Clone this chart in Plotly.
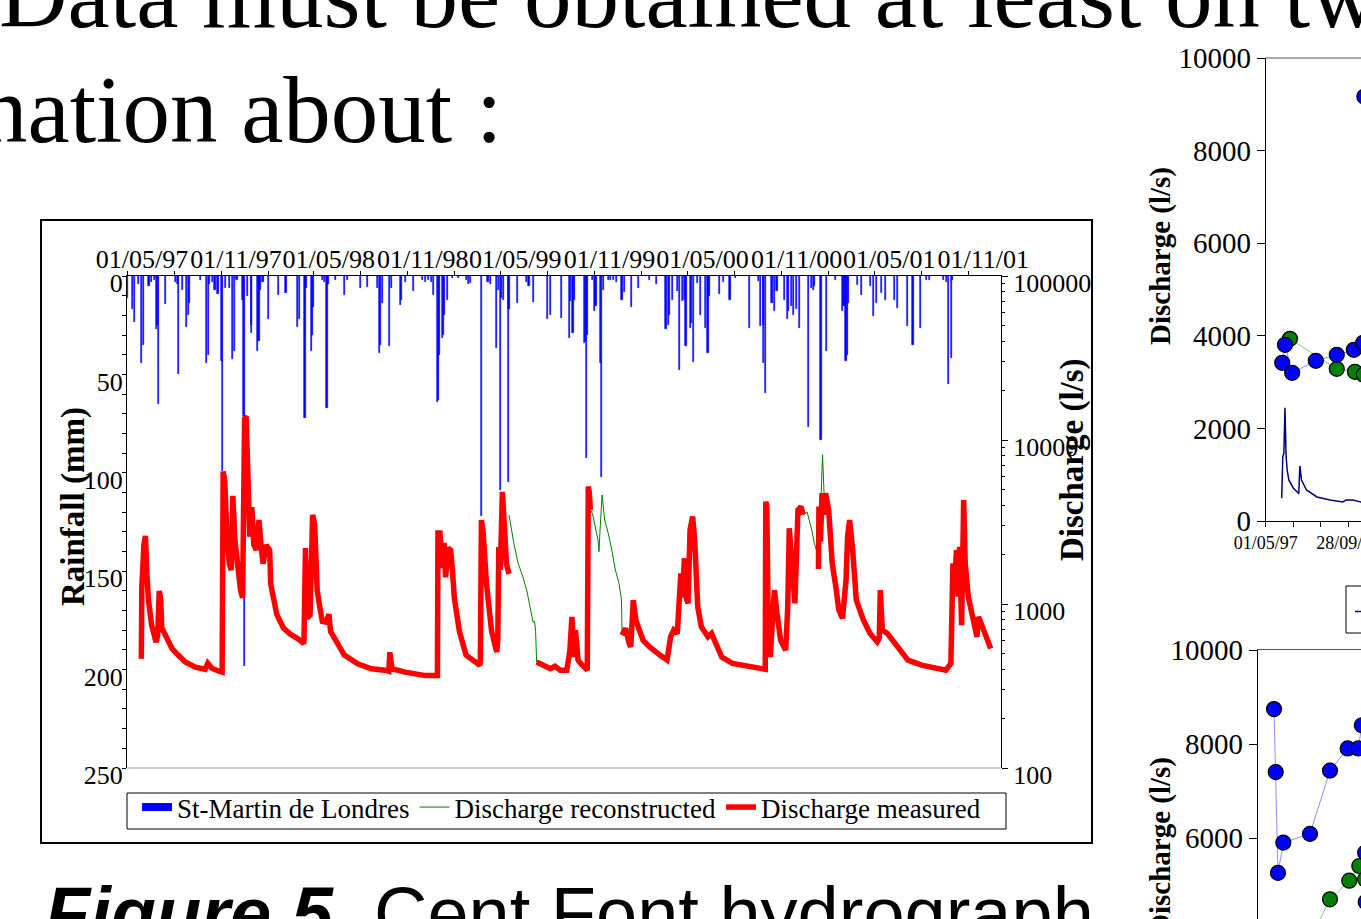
import pandas as pd
import plotly.graph_objects as go

START = pd.Timestamp("1997-05-01")
END = pd.Timestamp("2002-01-04")
DAY_MS = 86400000

# ---------------- main chart data ----------------
# daily rainfall at St-Martin de Londres (day offset from 01/05/97, mm)
rain_day = [0, 10, 14, 23, 29, 32, 43, 48, 53, 57, 60, 61, 76, 94, 98, 100, 108, 117, 120, 123,
            144, 156, 159, 162, 167, 172, 178, 184, 186, 192, 201, 207, 210, 215, 226, 227, 229, 235, 243, 244,
            255, 258, 260, 266, 277, 297, 311, 334, 337, 348, 350, 360, 363, 364, 383, 387, 391, 393, 407, 425,
            431, 457, 470, 489, 493, 496, 499, 513, 518, 534, 536, 545, 561, 577, 583, 589, 595, 599, 607, 609,
            611, 617, 619, 621, 626, 637, 649, 663, 667, 671, 693, 706, 711, 723, 726, 730, 733, 737, 746, 747,
            764, 782, 786, 795, 822, 828, 850, 865, 867, 872, 875, 894, 897, 899, 901, 911, 914, 917, 926, 927,
            932, 941, 945, 951, 958, 968, 972, 986, 1000, 1022, 1036, 1054, 1058, 1061, 1066, 1076, 1081, 1086, 1090, 1093,
            1102, 1104, 1107, 1115, 1122, 1131, 1136, 1138, 1159, 1167, 1179, 1190, 1217, 1234, 1239, 1244, 1245, 1248, 1260, 1263,
            1266, 1271, 1285, 1291, 1294, 1299, 1303, 1309, 1315, 1333, 1338, 1342, 1345, 1357, 1367, 1386, 1399, 1402, 1406, 1408,
            1411, 1428, 1436, 1453, 1460, 1465, 1475, 1483, 1500, 1507, 1527, 1537, 1551, 1563, 1569, 1596, 1602, 1607, 1612, 1615]
rain_mm = [11, 17, 23.5, 4, 44, 35, 5, 3, 2, 27, 25, 65, 14, 3, 4, 50, 7, 26, 20, 13.5,
           2, 44, 40, 4, 3, 7, 9, 43, 99, 6, 6, 42, 38, 2, 12, 71, 198, 10, 29, 25,
           38, 33, 7, 3, 22, 9.5, 8.5, 26, 22, 72, 6, 38, 30, 16, 2, 3, 67, 4, 2, 9.4,
           2, 6, 5.5, 6, 39, 35, 13.7, 35.7, 6, 14.5, 12, 3, 7.7, 2, 3, 2, 3, 9.4, 64, 63,
           40, 31.5, 30, 20, 12, 1, 1, 2, 4, 3.5, 122, 3, 4, 36.6, 7, 108.7, 11, 12, 104.5, 17,
           13.7, 3, 5, 13, 22, 19.6, 21.3, 31.5, 12.8, 28.9, 12, 34, 33, 92.6, 30, 1.8, 18, 15, 44, 102,
           7, 2, 2, 2, 3, 12, 8, 16, 6, 2, 4.3, 27, 25, 20, 12, 7.7, 47.6, 12.8, 12, 35.7,
           26.4, 24, 43.9, 3.5, 19.6, 26.4, 39.1, 10.3, 8.9, 3, 12, 1, 26.4, 2.3, 25.6, 25, 44, 59.5, 13.7, 13.7,
           17.9, 7.7, 12, 22, 18, 15, 20, 17, 26.4, 76.5, 6, 7, 5, 83.2, 38.3, 1.8, 18, 15, 43, 40,
           13.7, 4.8, 9.9, 5.2, 20.5, 13.7, 8.6, 12, 12, 16.2, 25.6, 34.9, 26.4, 2, 2, 2, 3, 54.7, 41.7, 1.8]

# measured discharge (day offset, l/s); None separates gaps in the record
meas_day = [28, 29, 33, 36, 39, 42, 48, 57, 60, 63, 66, 68, 76, 88, 100, 114, 134, 153, 158, 166,
            180, 186, 188, 191, 195, 200, 204, 207, 211, 216, 222, 226, 230, 233, 236, 240, 244, 248, 253, 258,
            262, 266, 272, 279, 281, 287, 293, 306, 319, 333, 346, 349, 352, 358, 363, 367, 372, 378, 382, 389,
            395, 398, 412, 425, 451, 478, 508, 512, 514, 518, 544, 584, 607, 608, 612, 616, 620, 623, 628, 633,
            637, 640, 650, 663, 690, 691, 693, 696, 703, 713, 723, 725, 727, 730, 734, 737, 742, 747, None,
            801, 815, 828, 837, 847, 860, 866, 870, 874, 877, 882, 887, 900, 902, 904, 906, None,
            968, 975, 982, 985, 990, 995, 1009, 1022, 1042, 1056, 1063, 1069, 1076, 1083, 1086, 1090, 1093, 1097, 1101, 1106,
            1110, 1113, 1116, 1123, 1136, 1143, 1163, 1184, 1217, 1244, 1248, 1249, 1251, 1254, 1258, 1262, 1266, 1271, 1278, 1288,
            1292, 1295, 1299, 1306, 1312, 1318, 1322, None,
            1352, 1353, 1356, 1359, 1362, 1366, 1372, 1379, 1386, 1392, 1399, 1406, 1409, 1413, 1419, 1426, 1440, 1453, 1467, 1471,
            1473, 1477, 1487, 1514, 1527, 1554, 1574, 1601, 1611, 1615, 1618, 1622, 1625, 1628, 1632, 1636, 1639, 1645, 1655, 1662,
            1665, 1675, 1689]
meas_q = [463, 1268, 2291, 2600, 1503, 1057, 747, 585, 646, 1200, 1057, 713, 637, 535, 488, 443, 412, 400, 435, 406,
          389, 384, 6425, 5710, 2830, 1758, 1611, 4560, 2455, 1611, 1216, 1092, 13800, 13600, 6580, 2570, 3890, 2291, 2133, 3250,
          2291, 1758, 2291, 2133, 1324, 1057, 861, 713, 656, 617, 574, 2193, 820, 855, 3493, 3034, 1200, 918, 783, 775,
          867, 680, 561, 488, 432, 403, 393, 389, 508, 403, 384, 366, 366, 2710, 2710, 1656, 2355, 1454, 2193, 2124,
          1503, 1092, 680, 488, 423, 455, 3250, 2830, 1324, 680, 510, 602, 2228, 1611, 4830, 2830, 1758, 1524, None,
          443, 423, 403, 417, 395, 395, 520, 835, 475, 693, 455, 434, 395, 5200, 4800, 3750, None,
          646, 710, 574, 548, 1057, 798, 602, 548, 488, 455, 631, 693, 661, 1538, 1100, 1901, 1107, 1009, 2830, 3412,
          2455, 1538, 961, 726, 631, 661, 475, 434, 413, 395, 400, 4207, 4000, 693, 475, 800, 1216, 877, 602, 523,
          961, 2897, 1800, 1009, 3750, 3925, 3500, None,
          1636, 3925, 2400, 4742, 3500, 4742, 3750, 1770, 1274, 918, 817, 1400, 2576, 3250, 2133, 1057, 798, 661, 588, 620,
          1216, 693, 661, 523, 455, 424, 413, 395, 434, 1770, 1300, 2133, 1107, 2234, 743, 4300, 1770, 1107, 798, 631,
          835, 693, 535]

# reconstructed discharge over the gaps (day offset, l/s)
recon_day = [747, 752, 757, 765, 773, 782, 792, 794, 797, 799, 801, None,
             906, 910, 921, 923, 925, 929, 934, 941, 948, 955, 962, 967, 968, None,
             1322, 1330, 1339, 1344, 1349, 1352, 1356, 1360, 1363]
recon_q = [3493, 2830, 2291, 1758, 1503, 1200, 820, 775, 783, 680, 443, None,
           3750, 3573, 2455, 2084, 2830, 4624, 3250, 2698, 2133, 1611, 1336, 1057, 646, None,
           3500, 3631, 2830, 2345, 2084, 2300, 3500, 8128, 4742]

main_tick_dates = ["1997-05-01", "1997-11-01", "1998-05-01", "1998-11-01", "1999-05-01",
                   "1999-11-01", "2000-05-01", "2000-11-01", "2001-05-01", "2001-11-01"]
main_tick_text = [pd.Timestamp(d).strftime("%d/%m/%y") for d in main_tick_dates]

# ---------------- right-hand partial charts ----------------
rt_blue_day = [30, 35, 48, 91, 129, 160, 177, 179]
rt_blue_q = [3416, 3805, 3200, 3460, 3590, 3697, 3850, 9167]
rt_green_day = [44, 129, 162, 178]
rt_green_q = [3935, 3286, 3222, 3160]
rt_flow_day = [29, 31, 33, 35, 37, 39, 42, 50, 59, 60, 62, 65, 74, 93, 117, 140, 146, 158, 173, 180]
rt_flow_q = [491, 1380, 1470, 2443, 1400, 1100, 886, 714, 605, 584, 1189, 886, 670, 519, 454, 411, 454, 454, 411, 411]
rt_tick_dates = ["1997-05-01", "1997-09-28"]
rt_tick_text = ["01/05/97", "28/09/97"]

br_blue_day = [29.6, 32.7, 36.8, 46.5, 94.9, 131.2, 163.3, 182.6, 189, 195, 196]
br_blue_q = [8749, 7410, 5264, 5908, 6094, 7440, 7912, 7912, 8406, 5694, 4645]
br_green_day = [101, 131.2, 166.2, 184.4, 195]
br_green_q = [4000, 4702, 5098, 5411, 5128]


def to_dates(days):
    return [START + pd.Timedelta(days=d) if d is not None else None for d in days]


SERIF = "Liberation Serif"
W, H = 1361, 919


def px(x):
    return x / W


def py(y):
    return 1 - y / H


fig = go.Figure()

fig.add_trace(go.Bar(
    x=to_dates(rain_day), y=rain_mm, width=2.2 * DAY_MS,
    marker=dict(color="#0000FF", line=dict(color="#0000FF", width=0.6)),
    showlegend=False, legendgroup="rain", xaxis="x", yaxis="y", hoverinfo="skip"))
fig.add_trace(go.Scatter(
    x=[None], y=[None], mode="lines", line=dict(color="#0000FF", width=8),
    name="St-Martin de Londres", legendgroup="rain", xaxis="x", yaxis="y"))
fig.add_trace(go.Scatter(
    x=to_dates(recon_day), y=recon_q, mode="lines", line=dict(color="#008000", width=1),
    name="Discharge reconstructed", xaxis="x", yaxis="y2"))
fig.add_trace(go.Scatter(
    x=to_dates(meas_day), y=meas_q, mode="lines", line=dict(color="#FF0000", width=5.5),
    name="Discharge measured", xaxis="x", yaxis="y2"))

# top-right chart
fig.add_trace(go.Scatter(
    x=to_dates(rt_flow_day), y=rt_flow_q, mode="lines", line=dict(color="#000080", width=1.5),
    showlegend=False, xaxis="x3", yaxis="y3"))
fig.add_trace(go.Scatter(
    x=to_dates(rt_green_day), y=rt_green_q, mode="lines+markers",
    line=dict(color="#70B070", width=0.8),
    marker=dict(size=15, color="#008000", line=dict(color="black", width=1.2)),
    showlegend=False, xaxis="x3", yaxis="y3"))
fig.add_trace(go.Scatter(
    x=to_dates(rt_blue_day), y=rt_blue_q, mode="lines+markers",
    line=dict(color="#7070FF", width=0.8),
    marker=dict(size=15, color="#0000FF", line=dict(color="black", width=1.2)),
    showlegend=False, xaxis="x3", yaxis="y3"))

# bottom-right chart
fig.add_trace(go.Scatter(
    x=br_green_day, y=br_green_q, mode="lines+markers",
    line=dict(color="#70B070", width=0.8),
    marker=dict(size=15, color="#008000", line=dict(color="black", width=1.2)),
    showlegend=False, xaxis="x4", yaxis="y4"))
fig.add_trace(go.Scatter(
    x=br_blue_day, y=br_blue_q, mode="lines+markers",
    line=dict(color="#7070FF", width=0.8),
    marker=dict(size=15, color="#0000FF", line=dict(color="black", width=1.2)),
    showlegend=False, xaxis="x4", yaxis="y4"))

axis_common = dict(showgrid=False, zeroline=False, showline=True, linecolor="black",
                   linewidth=1, tickcolor="black", automargin=False, tickangle=0,
                   ticklabeloverflow="allow")

fig.update_layout(
    template="none",
    width=W, height=H, margin=dict(l=0, r=0, t=0, b=0, pad=0, autoexpand=False),
    paper_bgcolor="white", plot_bgcolor="rgba(0,0,0,0)",
    font=dict(family=SERIF, size=26, color="black"),
    bargap=0,
    showlegend=True,
    legend=dict(orientation="h", x=px(137), y=py(783), xanchor="left", yanchor="top",
                borderwidth=0, bgcolor="rgba(0,0,0,0)",
                font=dict(family=SERIF, size=27), itemwidth=30, tracegroupgap=0),
    xaxis=dict(domain=[px(127), px(1001)], anchor="y", type="date", range=[START, END], side="top",
               tickvals=main_tick_dates, ticktext=main_tick_text, ticks="outside", ticklen=4,
               ticklabelshift=15, ticklabelstandoff=-7,
               minor=dict(ticks="outside", ticklen=4, dtick="M3", tick0="1997-05-01", tickcolor="black"),
               **axis_common),
    yaxis=dict(domain=[py(768), py(276)], anchor="x", range=[250, 0],
               tickvals=[0, 50, 100, 150, 200, 250], ticks="outside", ticklen=4,
               ticklabelshift=-7, ticklabelstandoff=-6,
               minor=dict(ticks="outside", ticklen=4, dtick=10, tickcolor="black"),
               **axis_common),
    yaxis2=dict(overlaying="y", side="right", anchor="x", type="log", range=[2, 5],
                tickvals=[100, 1000, 10000, 100000], ticktext=["100", "1000", "10000", "100000"],
                ticks="outside", ticklen=6, ticklabelshift=7,
                minor=dict(ticks="outside", ticklen=3, dtick="D1", tickcolor="black"),
                **axis_common),
    xaxis3=dict(domain=[px(1265.7), 1], anchor="y3", type="date",
                range=[START, pd.Timestamp("1997-10-21")],
                tickvals=rt_tick_dates, ticktext=rt_tick_text, ticks="outside", ticklen=5,
                tickfont=dict(size=18),
                minor=dict(ticks="outside", ticklen=5, dtick=50 * DAY_MS, tick0="1997-05-01",
                           tickcolor="black"),
                **axis_common),
    yaxis3=dict(domain=[py(521), py(58)], anchor="x3", range=[0, 10000], dtick=2000,
                tickformat="d", ticks="outside", ticklen=8, tickfont=dict(size=29),
                **axis_common),
    xaxis4=dict(domain=[px(1257.7), 1], anchor="y4", range=[0, 187.5], side="top",
                showticklabels=False, ticks="", showgrid=False, zeroline=False, automargin=False,
                showline=True, linecolor="#555555", linewidth=1),
    yaxis4=dict(domain=[0, py(650.3)], anchor="x4", range=[4283, 10000],
                tickvals=[6000, 8000, 10000], tickformat="d", ticks="outside", ticklen=8,
                tickfont=dict(size=29), **axis_common),
)

fig.update_layout(shapes=[
    dict(type="rect", xref="paper", yref="paper", x0=px(41), x1=px(1092), y0=py(843), y1=py(220),
         line=dict(color="black", width=2)),
    dict(type="rect", xref="paper", yref="paper", x0=px(127), x1=px(1006), y0=py(829), y1=py(793),
         line=dict(color="black", width=1)),
    dict(type="line", xref="x domain", yref="y domain", x0=0, x1=1, y0=0, y1=0,
         line=dict(color="#9a9a9a", width=1.2)),
    dict(type="line", xref="x3 domain", yref="y3 domain", x0=0, x1=1, y0=1, y1=1,
         line=dict(color="#555555", width=1)),
    dict(type="rect", xref="paper", yref="paper", x0=px(1346), x1=1.02, y0=py(633), y1=py(586),
         line=dict(color="black", width=1)),
    dict(type="line", xref="paper", yref="paper", x0=px(1355), x1=1.0, y0=py(611.5), y1=py(611.5),
         line=dict(color="#000080", width=1.5)),
])

ann_common = dict(xref="paper", yref="paper", showarrow=False, yanchor="middle")
fig.update_layout(annotations=[
    dict(text="Data must be obtained at least on two", x=px(-3), y=py(-5), xanchor="left",
         font=dict(family=SERIF, size=95, color="black"), **ann_common),
    dict(text="nation about :", x=px(-22), y=py(110), xanchor="left",
         font=dict(family=SERIF, size=95, color="black"), **ann_common),
    dict(text="<b><i>Figure 5</i></b>. Cent Font hydrograph", x=px(43), y=py(913), xanchor="left",
         font=dict(family="Liberation Sans", size=74, color="black"), **ann_common),
    dict(text="<b>Rainfall (mm)</b>", x=px(73), y=py(507), xanchor="center", textangle=-90,
         font=dict(family=SERIF, size=33, color="black"), **ann_common),
    dict(text="<b>Discharge (l/s)</b>", x=px(1072), y=py(460), xanchor="center", textangle=-90,
         font=dict(family=SERIF, size=33, color="black"), **ann_common),
    dict(text="<b>Discharge (l/s)</b>", x=px(1160), y=py(256), xanchor="center", textangle=-90,
         font=dict(family=SERIF, size=29, color="black"), **ann_common),
    dict(text="<b>Discharge (l/s)</b>", x=px(1160), y=py(846), xanchor="center", textangle=-90,
         font=dict(family=SERIF, size=29, color="black"), **ann_common),
])

fig.write_html("out.html")
